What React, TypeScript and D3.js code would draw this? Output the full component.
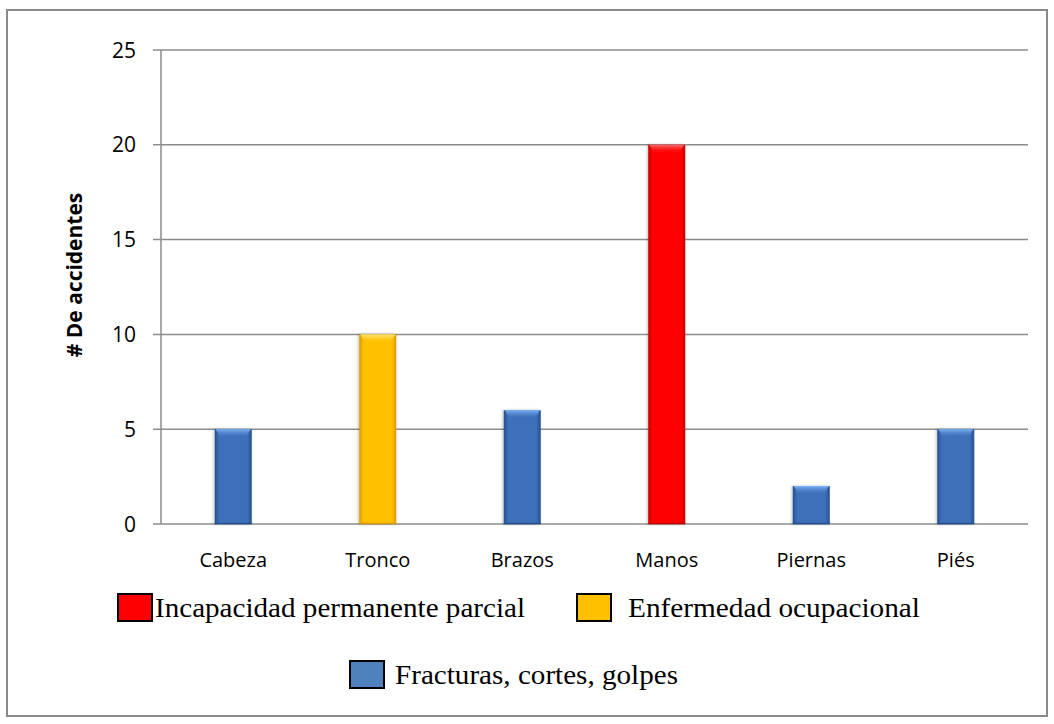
import React from "react";
import * as d3 from "d3";

const categories = ["Cabeza", "Tronco", "Brazos", "Manos", "Piernas", "Piés"];
const values = [5, 10, 6, 20, 2, 5];
const groups = ["frac", "enf", "frac", "inc", "frac", "frac"];
const yTicks = [0, 5, 10, 15, 20, 25];

const palette: Record<string, { base: string; dark: string; light: string; legend: string }> = {
  frac: { base: "#3d6fb8", dark: "#24508f", light: "#7ab4f5", legend: "#4f81bd" },
  enf: { base: "#ffc000", dark: "#d99a00", light: "#ffe680", legend: "#ffc000" },
  inc: { base: "#ff0000", dark: "#c80000", light: "#ff7070", legend: "#ff0000" },
};

const legendRow1 = [
  { key: "inc", label: "Incapacidad permanente parcial" },
  { key: "enf", label: "Enfermedad ocupacional" },
];
const legendRow2 = [{ key: "frac", label: "Fracturas, cortes, golpes" }];

export default function App() {
  const W = 1054;
  const H = 724;
  const left = 161;
  const right = 1028;
  const top = 50;
  const bottom = 524;

  const x = d3.scaleBand<string>().domain(categories).range([left, right]).paddingInner(0).paddingOuter(0);
  const y = d3.scaleLinear().domain([0, 25]).range([bottom, top]);
  const barW = 37;

  const axisFont = "'Open Sans', 'Noto Sans', sans-serif";
  const serif = "'Liberation Serif', 'Times New Roman', serif";

  return (
    <svg width={W} height={H} style={{ position: "absolute", left: 0, top: 0 }}>
      <defs>
        {Object.entries(palette).map(([k, c]) => (
          <React.Fragment key={k}>
            <linearGradient id={`g-${k}`} x1="0" x2="1" y1="0" y2="0">
              <stop offset="0" stopColor={c.dark} />
              <stop offset="0.12" stopColor={c.base} />
              <stop offset="0.5" stopColor={c.base} />
              <stop offset="0.88" stopColor={c.base} />
              <stop offset="1" stopColor={c.dark} />
            </linearGradient>
            <linearGradient id={`t-${k}`} x1="0" x2="0" y1="0" y2="1">
              <stop offset="0" stopColor={c.light} stopOpacity="1" />
              <stop offset="1" stopColor={c.base} stopOpacity="0" />
            </linearGradient>
          </React.Fragment>
        ))}
        <filter id="shadow" x="-30%" y="-5%" width="160%" height="110%">
          <feGaussianBlur in="SourceAlpha" stdDeviation="1.5" />
          <feOffset dx="-1" dy="0" result="b" />
          <feComponentTransfer>
            <feFuncA type="linear" slope="0.25" />
          </feComponentTransfer>
          <feMerge>
            <feMergeNode />
            <feMergeNode in="SourceGraphic" />
          </feMerge>
        </filter>
      </defs>

      <rect x={7} y={10} width={1040} height={706} fill="#fff" stroke="#8a8a8a" strokeWidth={2} />

      {/* gridlines and y ticks */}
      {yTicks.map((t) => (
        <g key={t}>
          <line x1={153} x2={right} y1={y(t)} y2={y(t)} stroke="#8c8c8c" strokeWidth={1.5} />
          <text x={136} y={y(t)} dy="0.36em" textAnchor="end" fontFamily={axisFont} fontSize={21} fill="#000">
            {t}
          </text>
        </g>
      ))}
      <line x1={left} x2={left} y1={top} y2={bottom} stroke="#8c8c8c" strokeWidth={1.5} />

      {/* bars with a bevelled top cap */}
      {categories.map((c, i) => {
        const k = groups[i];
        const cx = (x(c) as number) + x.bandwidth() / 2;
        const bx = cx - barW / 2;
        const by = y(values[i]);
        const bh = bottom - by;
        return (
          <g key={c} filter="url(#shadow)">
            <rect x={bx} y={by} width={barW} height={bh} fill={`url(#g-${k})`} />
            <path
              d={`M${bx + 1},${by} H${bx + barW - 1} L${bx + barW - 6},${by + 9} Q${cx},${by + 5} ${bx + 6},${by + 9} Z`}
              fill={`url(#t-${k})`}
            />
            <line x1={bx} x2={bx + barW} y1={bottom - 0.5} y2={bottom - 0.5} stroke={palette[k].dark} strokeWidth={1.5} />
          </g>
        );
      })}

      {/* category labels */}
      {categories.map((c) => (
        <text
          key={c}
          x={(x(c) as number) + x.bandwidth() / 2}
          y={560}
          dy="0.36em"
          textAnchor="middle"
          fontFamily={axisFont}
          fontSize={20}
          fill="#000"
        >
          {c}
        </text>
      ))}

      {/* y axis title */}
      <text
        transform={`translate(${82},${275}) rotate(-90)`}
        textAnchor="middle"
        fontFamily={axisFont}
        fontWeight="bold"
        fontSize={21}
        fill="#000"
      >
        # De accidentes
      </text>

      {/* legend */}
      {legendRow1.map((l, i) => {
        const sx = i === 0 ? 118 : 577;
        const tx = i === 0 ? 155 : 628;
        const tl = i === 0 ? 370 : 292;
        return (
          <g key={l.key}>
            <rect x={sx} y={594} width={34} height={27} fill={palette[l.key].legend} stroke="#000" strokeWidth={2} />
            <text x={tx} y={608} dy="0.35em" fontFamily={serif} fontSize={27} textLength={tl} lengthAdjust="spacingAndGlyphs" fill="#000">
              {l.label}
            </text>
          </g>
        );
      })}
      {legendRow2.map((l) => (
        <g key={l.key}>
          <rect x={350} y={661} width={34} height={27} fill={palette[l.key].legend} stroke="#000" strokeWidth={2} />
          <text x={395} y={675} dy="0.35em" fontFamily={serif} fontSize={27} textLength={283} lengthAdjust="spacingAndGlyphs" fill="#000">
            {l.label}
          </text>
        </g>
      ))}
    </svg>
  );
}
